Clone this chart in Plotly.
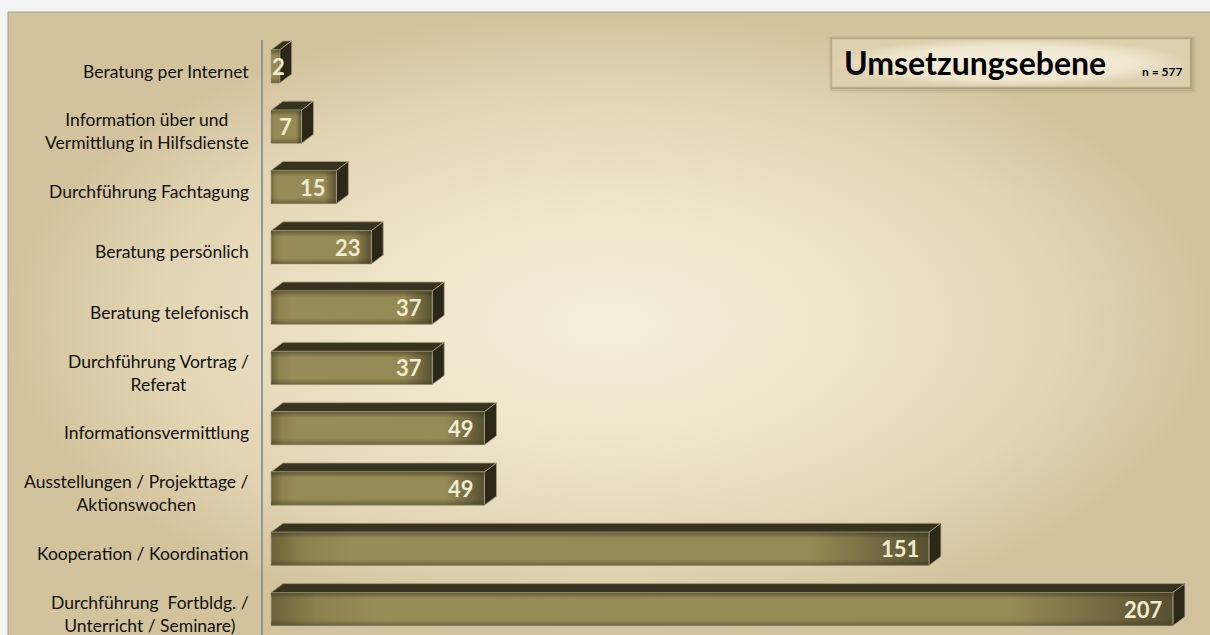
import plotly.graph_objects as go

categories = [
    "Beratung per Internet",
    "Information über und<br>Vermittlung in Hilfsdienste",
    "Durchführung Fachtagung",
    "Beratung persönlich",
    "Beratung telefonisch",
    "Durchführung Vortrag /<br>Referat",
    "Informationsvermittlung",
    "Ausstellungen / Projekttage /<br>Aktionswochen",
    "Kooperation / Koordination",
    "Durchführung\u00a0 Fortbldg. /<br>Unterricht / Seminare)",
]
values = [2, 7, 15, 23, 37, 37, 49, 49, 151, 207]
title_text = "Umsetzungsebene"
n_text = "n = 577"

# ---- geometry / style constants ----
W, H = 1210, 635
ML, MT = 8, 12
PW, PH = W - ML, H - MT
AX_PX = 262          # axis line pixel
ZERO_PX = 271        # value 0 pixel
PX_PER_UNIT = 4.357
PITCH = 60.3
ROW0_PX = 71

def px_to_paper_x(px):
    return (px - ML) / PW

def py_to_paper_y(py):
    return 1 - (py - MT) / PH

x_lo = -(ZERO_PX - AX_PX) / PX_PER_UNIT
x_hi = x_lo + (W - AX_PX) / PX_PER_UNIT
y_lo = -(ROW0_PX - MT) / PITCH
y_hi = y_lo + PH / PITCH

TOP_OFF = -0.35     # front face top (data units, rel. to row)
BOT_OFF = 0.20      # front face bottom
DX = 12 / PX_PER_UNIT
DY = 9 / PITCH

fig = go.Figure()

# background panel (subplot x/y in 0..1)
fig.add_trace(go.Scatter(
    x=[0, 1, 1, 0, 0], y=[0, 0, 1, 1, 0], mode="lines", fill="toself",
    line=dict(width=0, color="rgba(0,0,0,0)"),
    fillgradient=dict(type="radial", colorscale=[
        [0, "#f5eedb"], [0.35, "#efe6cd"], [0.75, "#e2d5b4"], [1, "#d3c39d"]]),
    hoverinfo="skip", showlegend=False, xaxis="x", yaxis="y"))

# title box shadow + box
bx0, bx1 = px_to_paper_x(832), px_to_paper_x(1190)
by0, by1 = py_to_paper_y(87), py_to_paper_y(39)
for off, op in [(6, 0.07), (4, 0.10), (2, 0.16)]:
    ox = off / PW
    oy = off / PH
    fig.add_trace(go.Scatter(
        x=[bx0 - ox * 0.5, bx1 + ox, bx1 + ox, bx0 - ox * 0.5, bx0 - ox * 0.5],
        y=[by0 - oy, by0 - oy, by1 + oy * 0.5, by1 + oy * 0.5, by0 - oy],
        mode="lines", fill="toself", line=dict(width=0, color="rgba(0,0,0,0)"),
        fillcolor=f"rgba(90,80,55,{op})", hoverinfo="skip", showlegend=False,
        xaxis="x", yaxis="y"))
fig.add_trace(go.Scatter(
    x=[bx0, bx1, bx1, bx0, bx0], y=[by0, by0, by1, by1, by0], mode="lines",
    fill="toself", line=dict(width=1, color="rgba(200,188,150,0.8)"),
    fillgradient=dict(type="radial", colorscale=[
        [0, "#f6f0df"], [0.7, "#efe6cf"], [1, "#dcd0ae"]]),
    hoverinfo="skip", showlegend=False, xaxis="x", yaxis="y"))

# bars
for i, v in enumerate(values):
    yt = i + TOP_OFF
    yb = i + BOT_OFF
    # top face
    fig.add_trace(go.Scatter(
        x=[0, v, v + DX, DX, 0], y=[yt, yt, yt - DY, yt - DY, yt],
        mode="lines", fill="toself", fillcolor="#37331f",
        line=dict(width=0.8, color="#a89f80"), hoverinfo="skip",
        showlegend=False, xaxis="x2", yaxis="y2"))
    # side face
    fig.add_trace(go.Scatter(
        x=[v, v + DX, v + DX, v, v], y=[yt, yt - DY, yb - DY, yb, yt],
        mode="lines", fill="toself", fillcolor="#2b281a",
        line=dict(width=0.8, color="#a89f80"), hoverinfo="skip",
        showlegend=False, xaxis="x2", yaxis="y2"))
    # front face (horizontal gradient)
    fig.add_trace(go.Scatter(
        x=[0, v, v, 0, 0], y=[yt, yt, yb, yb, yt],
        mode="lines", fill="toself",
        line=dict(width=0.8, color="#b1a888"),
        fillgradient=dict(type="horizontal", start=0, stop=v, colorscale=[
            [0, "#6a6239"], [0.05, "#8c824f"], [0.12, "#978c58"],
            [0.82, "#958a55"], [0.93, "#716841"], [1, "#55502f"]]),
        hoverinfo="skip", showlegend=False, xaxis="x2", yaxis="y2"))
    # front face vertical shading overlay
    fig.add_trace(go.Scatter(
        x=[0, v, v, 0, 0], y=[yt, yt, yb, yb, yt],
        mode="lines", fill="toself", line=dict(width=0, color="rgba(0,0,0,0)"),
        fillgradient=dict(type="vertical", start=yt, stop=yb, colorscale=[
            [0, "rgba(55,50,28,0.55)"], [0.18, "rgba(55,50,28,0)"],
            [0.82, "rgba(55,50,28,0)"], [1, "rgba(55,50,28,0.45)"]]),
        hoverinfo="skip", showlegend=False, xaxis="x2", yaxis="y2"))

annotations = []
for i, (c, v) in enumerate(zip(categories, values)):
    annotations.append(dict(
        text=c, xref="paper", yref="y2", x=px_to_paper_x(251), y=i,
        xanchor="right", yanchor="middle", align="center", showarrow=False,
        font=dict(family="Lato", size=17.5, color="#111111")))
    shift = max(-8, 16 - v * PX_PER_UNIT)
    annotations.append(dict(
        text=f"<b>{v}</b>", xref="x2", yref="y2", x=v, y=i + (TOP_OFF + BOT_OFF) / 2,
        xanchor="right", yanchor="middle", xshift=shift, showarrow=False,
        font=dict(family="Lato", size=22, color="#f1ebd0")))

annotations.append(dict(
    text=f"<b>{title_text}</b>", xref="paper", yref="paper",
    x=px_to_paper_x(842), y=py_to_paper_y(63), xanchor="left", yanchor="middle",
    showarrow=False, font=dict(family="Lato", size=32, color="#000000")))
annotations.append(dict(
    text=f"<b>{n_text}</b>", xref="paper", yref="paper",
    x=px_to_paper_x(1140), y=py_to_paper_y(72), xanchor="left", yanchor="middle",
    showarrow=False, font=dict(family="Lato", size=12, color="#000000")))

shapes = [
    dict(type="line", xref="paper", yref="paper",
         x0=px_to_paper_x(AX_PX), x1=px_to_paper_x(AX_PX),
         y0=0, y1=py_to_paper_y(40), line=dict(color="#959595", width=2)),
    dict(type="rect", xref="paper", yref="paper", x0=0, x1=1.01, y0=-0.02, y1=1,
         line=dict(color="#a29d92", width=1), fillcolor="rgba(0,0,0,0)"),
]

fig.update_layout(
    width=W, height=H,
    margin=dict(l=ML, r=0, t=MT, b=0, pad=0),
    paper_bgcolor="#f3f3f3", plot_bgcolor="rgba(0,0,0,0)",
    showlegend=False,
    xaxis=dict(domain=[0, 1], range=[0, 1], visible=False, fixedrange=True),
    yaxis=dict(domain=[0, 1], range=[0, 1], visible=False, fixedrange=True),
    xaxis2=dict(domain=[px_to_paper_x(AX_PX), 1], range=[x_lo, x_hi],
                visible=False, anchor="y2"),
    yaxis2=dict(domain=[0, 1], range=[y_hi, y_lo], visible=False, anchor="x2"),
    annotations=annotations, shapes=shapes,
)

fig.write_html("out.html")
